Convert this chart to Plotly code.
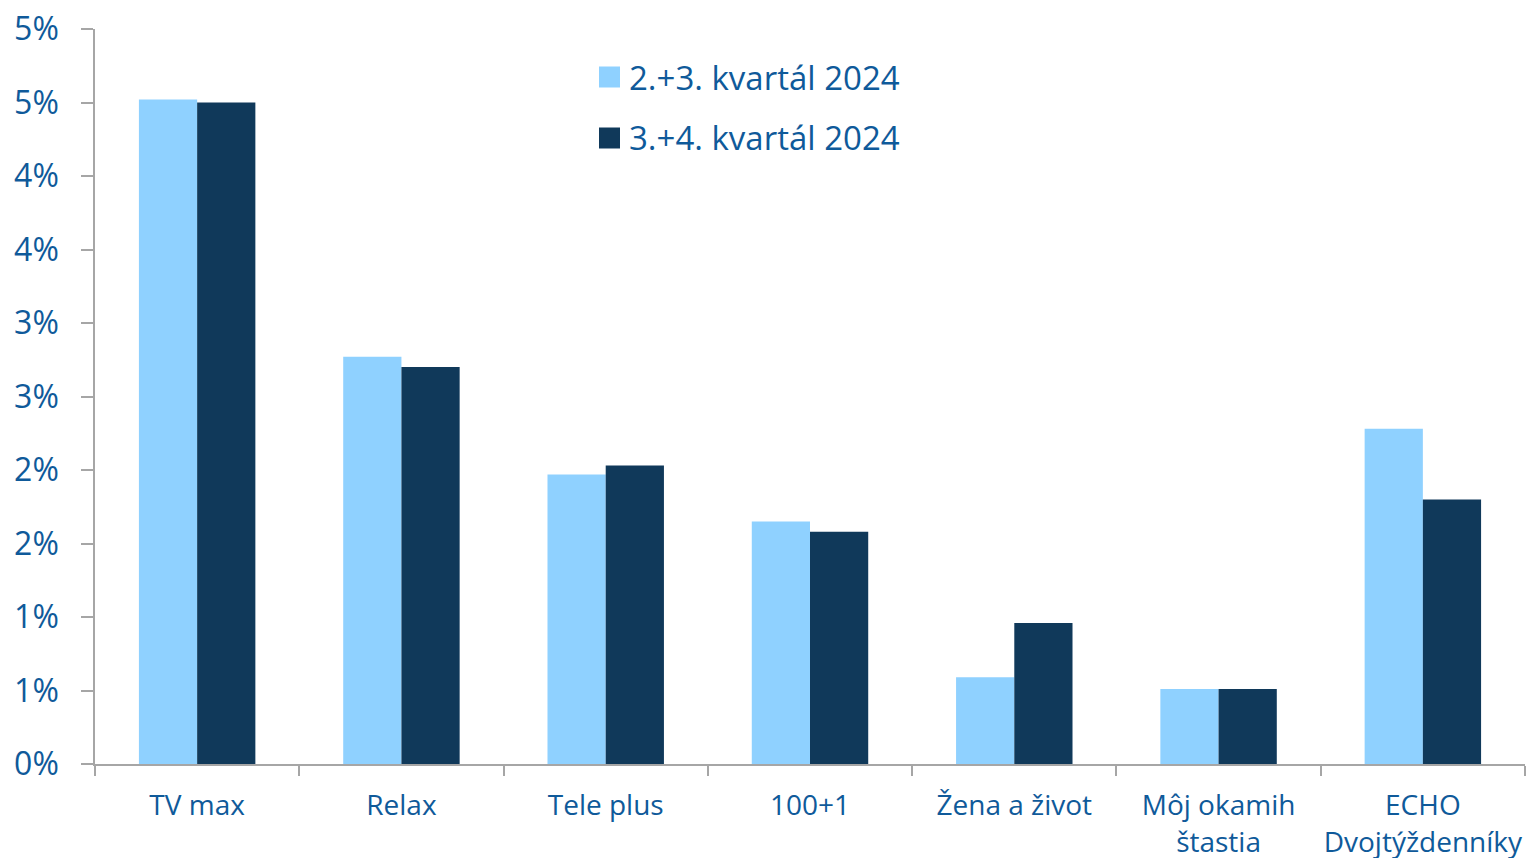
import plotly.graph_objects as go

categories = ["TV max", "Relax", "Tele plus", "100+1", "Žena a život",
              "Môj okamih<br>štastia", "ECHO<br>Dvojtýždenníky"]
series_names = ["2.+3. kvartál 2024", "3.+4. kvartál 2024"]
values_q23 = [4.52, 2.77, 1.97, 1.65, 0.59, 0.51, 2.28]
values_q34 = [4.50, 2.70, 2.03, 1.58, 0.96, 0.51, 1.80]
tick_vals = [0, 0.5, 1, 1.5, 2, 2.5, 3, 3.5, 4, 4.5, 5]
tick_text = ["0%", "1%", "1%", "2%", "2%", "3%", "3%", "4%", "4%", "5%", "5%"]
series_colors = ["#8FD1FF", "#10395A"]

text_color = "#0F5A9A"
font_family = "Open Sans, Liberation Sans, sans-serif"

L, R, T, B = 95, 1, 29, 94
W, H = 1526, 858
pw, ph = W - L - R, H - T - B


def px_x(x):
    return (x - L) / pw


def px_y(y):
    return (H - B - y) / ph


fig = go.Figure()
for name, vals, col in zip(series_names, [values_q23, values_q34], series_colors):
    fig.add_trace(go.Bar(x=categories, y=vals, name=name,
                         marker=dict(color=col, line=dict(width=0)),
                         showlegend=False))

# manual legend (larger squares than plotly's fixed legend symbols)
shapes = []
annotations = []
for i, (name, col) in enumerate(zip(series_names, series_colors)):
    cy = 77 + i * 61
    shapes.append(dict(type="rect", xref="paper", yref="paper",
                       x0=px_x(599), x1=px_x(620), y0=px_y(cy + 10.5), y1=px_y(cy - 10.5),
                       fillcolor=col, line=dict(width=0)))
    annotations.append(dict(xref="paper", yref="paper", x=px_x(627), y=px_y(cy),
                            xanchor="left", yanchor="middle", showarrow=False,
                            text=name, font=dict(size=33, color=text_color)))

fig.update_layout(
    width=W, height=H,
    margin=dict(l=L, r=R, t=T, b=B),
    paper_bgcolor="white", plot_bgcolor="white",
    barmode="group", bargap=0.43, bargroupgap=0,
    font=dict(family=font_family, color=text_color),
    showlegend=False,
    shapes=shapes, annotations=annotations,
    xaxis=dict(showline=True, linecolor="#A6A6A6", linewidth=1.5,
               ticks="outside", tickson="boundaries", ticklen=10,
               tickcolor="#A6A6A6", tickwidth=1.5,
               tickfont=dict(size=28, color=text_color),
               tickangle=0, ticklabelstandoff=16,
               showgrid=False, automargin=False),
    yaxis=dict(range=[0, 5], tickvals=tick_vals, ticktext=tick_text,
               showline=True, linecolor="#A6A6A6", linewidth=1.5,
               ticks="outside", ticklen=12, tickcolor="#A6A6A6", tickwidth=1.5,
               tickfont=dict(size=32, color=text_color),
               ticklabelstandoff=16,
               showgrid=False, zeroline=False, automargin=False),
)

fig.write_html("out.html", config={"displayModeBar": False},
               post_script="document.body.style.margin='0';document.body.style.overflow='hidden';")
